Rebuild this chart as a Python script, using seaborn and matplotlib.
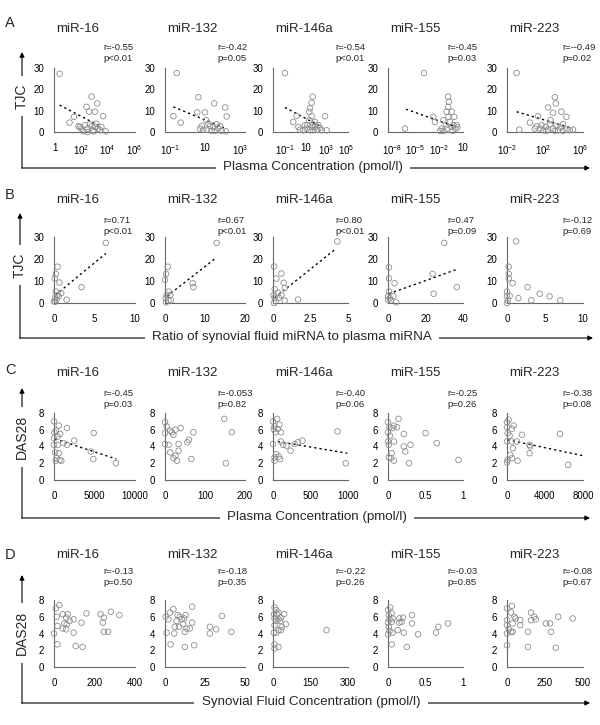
"""Correlation of plasma / synovial fluid miRNA with TJC and DAS28 (panels A-D)."""
import matplotlib
matplotlib.use('Agg')
import matplotlib.pyplot as plt
import numpy as np
import seaborn as sns

MIRNAS = ['miR-16', 'miR-132', 'miR-146a', 'miR-155', 'miR-223']

# ---- A: TJC vs plasma concentration (x stored as log10 pmol/l) ----
A16_LOGX = [0.37, 1.12, 1.46, 2.40, 2.78, 3.20, 2.60, 3.03, 3.65, 1.80, 2.00, 2.28, 2.46,
            2.65, 2.85, 3.03, 3.15, 3.28, 3.40, 3.52, 3.85, 2.16, 1.90, 2.50, 2.95, 2.78]
A16_Y = [27.3, 4.4, 7.1, 11.8, 16.6, 13.4, 9.5, 9.5, 7.4, 2.7, 1.6, 3.2, 1.6,
         3.6, 0.8, 2.4, 3.9, 1.6, 0.8, 2.4, 0.3, 0.3, 2.4, 0.0, 0.3, 2.7]
A132_LOGX = [-0.62, -0.81, -0.39, 0.62, 0.56, 1.00, 1.53, 2.16, 2.24, 1.06, 1.19, 1.29,
             1.48, 1.67, 1.76, 0.90, 1.10, 1.38, 1.86, 1.95, 2.20, 1.57, 0.71, 0.81]
A132_Y = [27.6, 7.4, 4.4, 16.3, 9.2, 9.2, 13.4, 11.5, 7.3, 5.5, 3.9, 2.7,
          2.4, 3.6, 1.6, 1.1, 1.1, 0.5, 2.7, 0.5, 0.3, 0.5, 1.6, 2.7]
A146_LOGX = [-1.07, -0.25, 0.08, 0.25, 0.74, 1.07, 0.90, 1.39, 1.56, 1.72, 1.33, 1.56, 1.39, 1.56,
             1.66, 1.33, 1.89, 2.11, 2.21, 2.38, 2.54, 2.87, 3.03, 1.72, 1.13, 1.89, 0.41]
A146_Y = [27.6, 4.7, 7.6, 2.4, 0.8, 1.6, 3.2, 0.8, 2.4, 3.5, 5.5, 7.4, 11.1, 13.7,
          16.6, 9.5, 2.4, 1.1, 3.2, 1.9, 0.8, 7.4, 0.8, 0.8, 3.2, 4.7, 1.1]
A155_LOGX = [-6.35, -3.94, -2.77, -2.55, -1.70, -0.87, -0.78, -0.87, -1.07, -0.44, -0.87, -0.11,
             -1.50, -0.65, -0.23, 0.20, -1.16, -0.44, 0.00, -1.92, -1.50, -1.07, -0.31, 0.27]
A155_Y = [1.6, 27.6, 7.1, 4.7, 1.6, 16.6, 14.2, 11.8, 9.5, 9.5, 7.1, 7.1,
          5.5, 4.7, 3.2, 3.2, 3.2, 2.4, 1.6, 0.5, 0.5, 1.6, 0.5, 2.1]
A223_LOGX = [-0.95, -0.66, 0.50, 1.40, 2.49, 3.03, 3.22, 3.33, 3.94, 4.49, 2.75, 1.04, 1.22, 1.59, 1.77,
             1.95, 2.24, 2.49, 2.67, 3.03, 3.40, 3.58, 3.84, 4.12, 4.49, 4.85, 5.21, 2.31, 3.22, 4.12]
A223_Y = [27.6, 1.1, 4.4, 7.4, 11.5, 9.0, 16.3, 13.4, 9.5, 7.1, 5.5, 1.6, 2.7, 1.6, 3.2,
          0.8, 2.4, 1.1, 3.6, 1.6, 2.7, 0.8, 2.1, 3.6, 1.1, 0.8, 1.1, 0.5, 0.5, 0.5]
A_FIT_LOGX = [[0.37, 3.40], [-0.81, 2.08], [-1.07, 2.54], [-6.22, -0.15], [-0.95, 4.85]]
A_FIT_Y = [[12.6, 2.8], [11.8, 2.0], [11.5, 2.4], [10.7, 2.7], [9.5, 2.1]]
A_STATS = ['r=-0.55\np<0.01', 'r=-0.42\np=0.05', 'r=-0.54\np<0.01', 'r=-0.45\np=0.03', 'r=--0.49\np=0.02']

# ---- B: TJC vs ratio synovial fluid / plasma ----
B16_X = [6.4, 0.44, 0.22, 0.09, 0.67, 0.22, 0.44, 0.89, 0.13, 0.31, 0.13, 1.56, 3.4, 0.58, 0.0]
B16_Y = [27.3, 16.5, 13.2, 11.2, 9.3, 5.2, 3.7, 4.5, 2.5, 1.5, 0.5, 1.5, 7.2, 3.0, 0.75]
B132_X = [12.9, 0.7, 0.27, 6.9, 7.1, 0.9, 0.45, 1.34, 0.18, 0.9, 0.27, 1.5, 0.0]
B132_Y = [27.3, 16.5, 13.2, 9.0, 7.2, 5.2, 3.7, 3.7, 2.2, 1.2, 0.3, 1.2, 10.5]
B146_X = [4.29, 0.07, 0.22, 0.56, 0.11, 0.33, 0.71, 0.78, 0.56, 0.11, 0.18, 0.07, 0.78, 1.67, 0.04, 0.40]
B146_Y = [28.0, 16.6, 11.1, 13.4, 6.3, 4.7, 9.2, 6.8, 3.5, 2.4, 0.8, 0.0, 1.1, 1.6, 3.5, 2.4]
B155_X = [30, 0.5, 0.5, 3.5, 23.8, 36.7, 24.3, 0.5, 0.0, 1.0, 2.8, 1.4, 4.4, 0.0]
B155_Y = [27.3, 16.2, 11.2, 9.0, 13.2, 7.2, 4.2, 5.2, 3.0, 2.2, 3.2, 1.2, 0.3, 1.5]
B223_X = [1.2, 0.22, 0.22, 0.22, 0.74, 0.0, 0.35, 0.0, 0.09, 0.0, 1.5, 2.7, 3.2, 4.3, 5.6, 7.0]
B223_Y = [28.0, 16.5, 13.2, 11.2, 9.0, 5.2, 3.2, 3.2, 1.2, 0.0, 2.2, 7.2, 1.2, 4.2, 3.0, 1.2]
B_FIT_X = [[0.2, 6.4], [0.45, 12.9], [0.11, 4.22], [0.5, 36.7], None]
B_FIT_Y = [[3.7, 22.5], [3.0, 20.7], [2.4, 24.8], [4.2, 15.3], None]
B_STATS = ['r=0.71\np<0.01', 'r=0.67\np<0.01', 'r=0.80\np<0.01', 'r=0.47\np=0.09', 'r=-0.12\np=0.69']

# ---- C: DAS28 vs plasma concentration ----
C16_X = [0, 590, 230, 50, 770, 450, 1600, 1140, 1600, 2500, 0, 450, 140, 590, 680, 320, 900,
         4900, 4550, 4860, 7640, 230, 0]
C16_Y = [7.0, 6.5, 5.9, 5.7, 5.5, 5.2, 6.2, 4.4, 4.2, 4.7, 4.2, 4.2, 3.3, 3.2, 2.4, 2.6, 2.3,
         5.6, 3.4, 2.5, 2.0, 2.3, 5.0]
C132_X = [0, 4, 13, 0, 21, 39, 26, 17, 71, 0, 9, 34, 56, 60, 13, 34, 26, 21, 30, 66, 148, 167, 152]
C132_Y = [6.9, 6.4, 5.9, 5.6, 5.4, 6.2, 6.0, 5.7, 5.7, 4.3, 4.2, 4.3, 4.5, 4.8, 3.3, 3.5, 2.9,
          2.6, 2.3, 2.5, 7.3, 5.7, 2.0]
C146_X = [0, 55, 21, 85, 9, 64, 34, 106, 0, 106, 136, 179, 234, 290, 332, 392, 43, 77, 21, 94,
          21, 860, 970]
C146_Y = [7.0, 7.3, 6.4, 6.6, 6.1, 6.1, 5.7, 5.7, 4.3, 4.6, 4.2, 4.1, 3.5, 4.3, 4.5, 4.7, 3.1,
          2.8, 2.3, 2.5, 2.7, 5.8, 2.0]
C155_X = [0, 0.02, 0.06, 0.14, 0.12, 0.08, 0, 0.025, 0.21, 0.5, 0, 0.08, 0.01, 0.21, 0.30, 0.23,
          0.65, 0.05, 0.01, 0.04, 0.08, 0.28, 0.94]
C155_Y = [6.9, 6.3, 6.2, 7.3, 6.3, 6.5, 5.7, 5.3, 5.5, 5.6, 4.6, 4.6, 4.2, 4.0, 4.2, 3.4, 4.4,
          3.2, 2.7, 2.6, 2.3, 2.0, 2.4]
C223_X = [0, 170, 0, 520, 700, 70, 280, 1570, 5570, 0, 520, 1040, 2370, 2440, 630, 2370, 350,
          520, 0, 1110, 6440, 70]
C223_Y = [6.9, 7.2, 6.3, 6.1, 6.5, 5.6, 5.3, 5.4, 5.5, 4.6, 4.6, 4.6, 4.2, 4.0, 3.8, 3.2, 3.0,
          2.6, 2.1, 2.3, 1.8, 2.4]
C_FIT_X = [[140, 7700], None, [64, 990], None, [70, 8000]]
C_FIT_Y = [[4.9, 2.5], None, [4.6, 3.2], None, [4.8, 2.9]]
C_STATS = ['r=-0.45\np=0.03', 'r=-0.053\np=0.82', 'r=-0.40\np=0.06', 'r=-0.25\np=0.26', 'r=-0.38\np=0.08']

# ---- D: DAS28 vs synovial fluid concentration ----
D16_X = [26, 9, 43, 14, 68, 60, 97, 160, 77, 51, 63, 136, 17, 43, 60, 0, 97, 17, 107, 141,
         230, 281, 246, 323, 241, 246, 267]
D16_Y = [7.4, 7.0, 6.3, 6.0, 6.3, 5.9, 5.7, 6.4, 5.5, 5.2, 5.1, 5.3, 4.9, 4.6, 4.5, 4.0, 4.1,
         2.7, 2.5, 2.4, 6.3, 6.6, 5.9, 6.2, 5.3, 4.2, 4.2]
D132_X = [0.4, 1.0, 3.1, 5.2, 2.1, 7.9, 7.2, 9.3, 10.4, 12.0, 12.8, 17.0, 11.4, 6.2, 8.7, 13.5,
          15.5, 17.0, 5.8, 12.4, 3.5, 12.4, 18.2, 28.0, 28.0, 32.0, 35.6, 41.4]
D132_Y = [6.0, 4.1, 6.5, 6.9, 5.7, 6.2, 5.5, 6.0, 5.7, 5.8, 6.2, 7.2, 5.1, 4.8, 4.8, 4.6,
          4.6, 5.3, 4.0, 4.2, 2.7, 2.4, 2.6, 4.8, 4.0, 4.5, 6.1, 4.2]
D146_X = [6, 13, 22, 4, 17, 45, 6, 22, 32, 13, 29, 51, 6, 35, 22, 32, 3, 13, 6, 22, 6, 214]
D146_Y = [7.1, 6.8, 6.5, 6.3, 6.3, 6.3, 5.8, 5.7, 5.9, 5.5, 5.5, 5.1, 5.0, 4.8, 4.4, 4.4, 4.1,
          4.1, 2.7, 2.4, 2.2, 4.4]
D155_X = [0.03, 0, 0.05, 0.01, 0.06, 0.02, 0, 0.05, 0.15, 0.20, 0.18, 0.15, 0.32, 0.32, 0.01,
          0.13, 0.02, 0.06, 0.21, 0, 0.40, 0.64, 0.67, 0.80, 0.05, 0.25]
D155_Y = [7.1, 6.8, 6.4, 6.2, 5.8, 5.7, 5.3, 5.4, 5.8, 5.9, 5.4, 5.3, 6.2, 5.2, 4.8,
          4.4, 4.3, 4.1, 4.1, 3.9, 3.9, 4.1, 4.8, 5.2, 2.7, 2.4]
D223_X = [0, 32, 26, 0, 0, 12, 0, 26, 37, 49, 57, 37, 87, 87, 158, 158, 179, 189, 138, 138,
          256, 284, 290, 337, 321, 432, 0]
D223_Y = [7.0, 7.3, 6.5, 5.6, 5.0, 4.5, 4.0, 4.2, 4.2, 6.0, 5.8, 5.2, 5.6, 5.0, 6.5, 5.6, 6.0,
          5.7, 4.2, 2.4, 5.2, 5.2, 4.2, 6.0, 2.3, 5.8, 2.6]
D_STATS = ['r=-0.13\np=0.50', 'r=-0.18\np=0.35', 'r=-0.22\np=0.26', 'r=-0.03\np=0.85', 'r=-0.08\np=0.67']

# axis ticks
A_XTICK_EXP = [[0, 2, 4, 6], [-1, 1, 3], [-1, 1, 3, 5], [-8, -5, -2, 1], [-2, 2, 6]]
A_XLIM_EXP = [(-0.05, 6.05), (-1.29, 3.29), (-2.24, 5.13), (-8.5, 1.0), (-2.0, 6.3)]
B_XTICKS = [[0, 5, 10], [0, 10, 20], [0, 2.5, 5], [0, 20, 40], [0, 5, 10]]
C_XTICKS = [[0, 5000, 10000], [0, 100, 200], [0, 500, 1000], [0, 0.5, 1], [0, 4000, 8000]]
D_XTICKS = [[0, 200, 400], [0, 25, 50], [0, 150, 300], [0, 0.5, 1], [0, 250, 500]]

# ---- layout (pixels) ----
W, H = 600, 725
COLS = [(54, 135), (165, 245), (273, 348), (388, 463), (507, 583)]
STAT_X = [103, 217, 335, 447, 562]
ROWS = {'A': (68, 132), 'B': (237, 303), 'C': (413, 480), 'D': (600, 667)}
TITLE_Y = {'A': 29, 'B': 200, 'C': 373, 'D': 555}
STAT_Y = {'A': 53, 'B': 226, 'C': 399, 'D': 577}
EDGE = '#666666'

sns.set_style('white')
plt.rcParams['font.family'] = ['Liberation Sans', 'DejaVu Sans']
plt.rcParams['mathtext.fontset'] = 'custom'
plt.rcParams['mathtext.rm'] = 'Liberation Sans'
plt.rcParams['mathtext.it'] = 'Liberation Sans'

fig = plt.figure(figsize=(W / 100, H / 100), dpi=100)

# overlay in pixel coords for the L-shaped arrows, labels and titles
ov = fig.add_axes([0, 0, 1, 1])
ov.set_xlim(0, W)
ov.set_ylim(H, 0)
ov.axis('off')


def tick_label(v):
    return f'{v:g}'


def exp_label(e):
    if e == 0:
        return '1'
    if e == 1:
        return '10'
    return r'$10^{%d}$' % e


def panel(row, col, x, y, fit_x, fit_y, xticks, xlabels, xlim, yticks, ylim, stats, logx=False):
    l, r = COLS[col]
    t, b = ROWS[row]
    ax = fig.add_axes([l / W, 1 - b / H, (r - l) / W, (b - t) / H])
    sns.scatterplot(x=x, y=y, ax=ax, s=16, facecolors='none', edgecolor='#8c8c8c',
                    linewidth=0.6, clip_on=False, zorder=3, legend=False)
    if fit_x is not None:
        ax.plot(fit_x, fit_y, color='black', ls=(0, (1.6, 2.2)), lw=1.0, zorder=2)
    if logx:
        ax.set_xscale('log')
        ax.minorticks_off()
    ax.set_xlim(*xlim)
    ax.set_ylim(*ylim)
    ax.set_xticks(xticks, xlabels)
    ax.set_yticks(yticks, [tick_label(v) for v in yticks])
    ax.minorticks_off()
    for side in ['top', 'right']:
        ax.spines[side].set_visible(False)
    for side in ['left', 'bottom']:
        ax.spines[side].set_color(EDGE)
        ax.spines[side].set_linewidth(0.8)
    ax.tick_params(axis='both', direction='in', length=3, width=0.8, color=EDGE,
                   labelsize=7, colors='black')
    ax.tick_params(axis='x', pad=8)
    ax.tick_params(axis='y', pad=7)
    ax.set_xlabel('')
    ax.set_ylabel('')
    ov.text(l + 2, TITLE_Y[row], MIRNAS[col], fontsize=9.5, ha='left', va='center')
    ov.text(STAT_X[col], STAT_Y[row], stats, fontsize=6.8, ha='left', va='center',
            linespacing=1.15)
    return ax


# row A (log x)
A_SETS = [(A16_LOGX, A16_Y), (A132_LOGX, A132_Y), (A146_LOGX, A146_Y),
          (A155_LOGX, A155_Y), (A223_LOGX, A223_Y)]
for i, (lx, yv) in enumerate(A_SETS):
    panel('A', i, 10 ** np.array(lx), yv,
          10 ** np.array(A_FIT_LOGX[i]), A_FIT_Y[i],
          [10.0 ** e for e in A_XTICK_EXP[i]], [exp_label(e) for e in A_XTICK_EXP[i]],
          (10 ** A_XLIM_EXP[i][0], 10 ** A_XLIM_EXP[i][1]),
          [0, 10, 20, 30], (0, 30), A_STATS[i], logx=True)

B_SETS = [(B16_X, B16_Y), (B132_X, B132_Y), (B146_X, B146_Y), (B155_X, B155_Y), (B223_X, B223_Y)]
for i, (xv, yv) in enumerate(B_SETS):
    panel('B', i, xv, yv, B_FIT_X[i], B_FIT_Y[i], B_XTICKS[i],
          [tick_label(v) for v in B_XTICKS[i]], (0, B_XTICKS[i][-1]),
          [0, 10, 20, 30], (0, 30), B_STATS[i])

C_SETS = [(C16_X, C16_Y), (C132_X, C132_Y), (C146_X, C146_Y), (C155_X, C155_Y), (C223_X, C223_Y)]
for i, (xv, yv) in enumerate(C_SETS):
    panel('C', i, xv, yv, C_FIT_X[i], C_FIT_Y[i], C_XTICKS[i],
          [tick_label(v) for v in C_XTICKS[i]], (0, C_XTICKS[i][-1]),
          [0, 2, 4, 6, 8], (0, 8), C_STATS[i])

D_SETS = [(D16_X, D16_Y), (D132_X, D132_Y), (D146_X, D146_Y), (D155_X, D155_Y), (D223_X, D223_Y)]
for i, (xv, yv) in enumerate(D_SETS):
    panel('D', i, xv, yv, None, None, D_XTICKS[i],
          [tick_label(v) for v in D_XTICKS[i]], (0, D_XTICKS[i][-1]),
          [0, 2, 4, 6, 8], (0, 8), D_STATS[i])

# L-shaped arrows with the axis titles set into them
ARROWS = [
    # letter, letter y, x of vertical, arrow tip y, corner y, end x, ylabel, ylabel y, xlabel, xlabel x
    ('A', 23, 22, 52, 168, 590, 'TJC', 96, 'Plasma Concentration (pmol/l)', 313),
    ('B', 195, 20, 213, 338, 593, 'TJC', 265, 'Ratio of synovial fluid miRNA to plasma miRNA', 292),
    ('C', 370, 22, 388, 518, 590, 'DAS28', 437, 'Plasma Concentration (pmol/l)', 317),
    ('D', 555, 22, 575, 703, 590, 'DAS28', 633, 'Synovial Fluid Concentration (pmol/l)', 311),
]
arrow = dict(arrowstyle='-|>', lw=0.8, color='black', mutation_scale=7, shrinkA=0, shrinkB=0)
box = dict(boxstyle='square,pad=0.55', fc='white', ec='none')
for letter, ly, vx, tip, corner, end, ylab, yly, xlab, xlx in ARROWS:
    ov.text(10, ly, letter, fontsize=10.5, ha='center', va='center')
    ov.annotate('', xy=(vx, tip), xytext=(vx, corner), arrowprops=arrow)
    ov.annotate('', xy=(end, corner), xytext=(vx - 0.4, corner), arrowprops=arrow)
    ov.text(vx, yly, ylab, fontsize=10, rotation=90, ha='center', va='center', bbox=box, zorder=5)
    ov.text(xlx, corner - 1, xlab, fontsize=9.6, ha='center', va='center', bbox=box, zorder=5)

fig.savefig('out.png', dpi=100)
